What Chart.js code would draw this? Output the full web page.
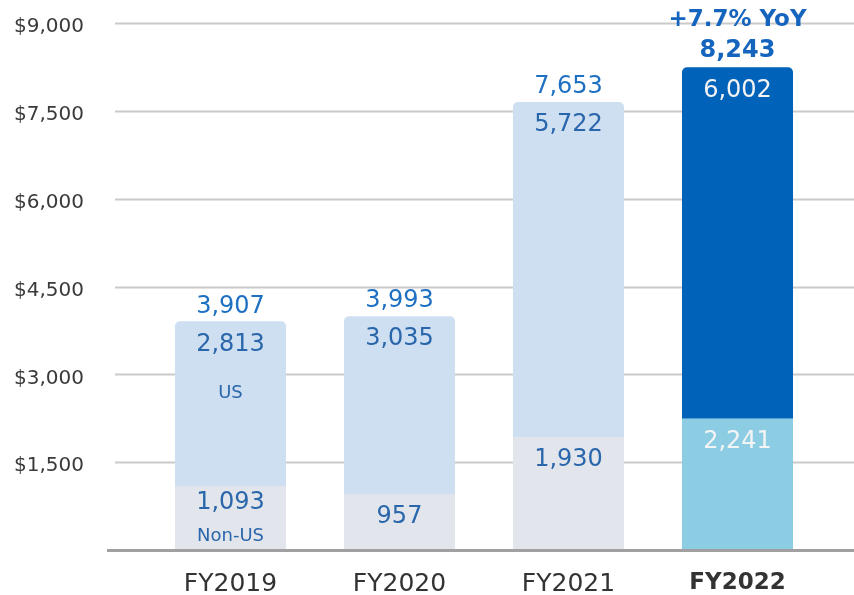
<!DOCTYPE html>
<html>
<head>
<meta charset="utf-8">
<script src="https://cdn.jsdelivr.net/npm/chart.js@4"></script>
<style>
  html, body { margin: 0; padding: 0; background: #ffffff; }
  #wrap { width: 854px; height: 595px; }
</style>
</head>
<body>
<div id="wrap"><canvas id="chart" width="854" height="595"></canvas></div>
<script>
const categories = ['FY2019', 'FY2020', 'FY2021', 'FY2022'];
const nonUs = [1093, 957, 1930, 2241];
const us = [2813, 3035, 5722, 6002];
const totals = [3907, 3993, 7653, 8243];
const yTicks = [0, 1500, 3000, 4500, 6000, 7500, 9000];
const yoyText = '+7.7% YoY';

const nonUsColors = ['#e2e6ec', '#e2e6ec', '#e2e6ec', '#8dcde4'];
const usColors = ['#cddff0', '#cddff0', '#cddff0', '#0063b9'];
const FONT = '"DejaVu Sans", sans-serif';

const fmt = v => v.toLocaleString('en-US');

// grid lines run wider than the bar area, so draw them ourselves
const gridPlugin = {
    id: 'gridPlugin',
    beforeDatasetsDraw(chart) {
        const ctx = chart.ctx;
        const y = chart.scales.y;
        ctx.save();
        ctx.strokeStyle = '#cacaca';
        ctx.lineWidth = 2;
        yTicks.forEach(t => {
            if (t === 0) return;
            const py = Math.round(y.getPixelForValue(t)) + 0.5;
            ctx.beginPath();
            ctx.moveTo(115, py);
            ctx.lineTo(854, py);
            ctx.stroke();
        });
        ctx.restore();
    },
    afterDatasetsDraw(chart) {
        const ctx = chart.ctx;
        const y = chart.scales.y;
        const base = y.getPixelForValue(0);
        ctx.save();
        ctx.strokeStyle = '#a0a0a0';
        ctx.lineWidth = 3;
        ctx.beginPath();
        ctx.moveTo(107, base + 0.5);
        ctx.lineTo(854, base + 0.5);
        ctx.stroke();
        ctx.restore();
    }
};

const labelPlugin = {
    id: 'labelPlugin',
    afterDatasetsDraw(chart) {
        const ctx = chart.ctx;
        const lower = chart.getDatasetMeta(0).data;
        const upper = chart.getDatasetMeta(1).data;
        ctx.save();
        ctx.textAlign = 'center';
        ctx.textBaseline = 'middle';
        categories.forEach((c, i) => {
            const x = upper[i].x;
            const topUs = upper[i].y;
            const topNon = lower[i].y;
            const last = i === categories.length - 1;
            const inner = last ? '#f4f4f4' : '#2a66ab';

            // totals above the bar
            if (last) {
                ctx.fillStyle = '#1565bf';
                ctx.font = 'bold 24px ' + FONT;
                ctx.fillText(fmt(totals[i]), x, topUs - 17);
                ctx.font = 'bold 23px ' + FONT;
                ctx.fillText(yoyText, x, topUs - 47);
            } else {
                ctx.fillStyle = '#1e70c2';
                ctx.font = '24px ' + FONT;
                ctx.fillText(fmt(totals[i]), x, topUs - 15);
            }

            // segment values
            ctx.fillStyle = inner;
            ctx.font = '24px ' + FONT;
            ctx.fillText(fmt(us[i]), x, topUs + 23);
            if (i === 0) {
                ctx.fillText(fmt(nonUs[i]), x, topNon + 17);
                ctx.font = '18px ' + FONT;
                ctx.fillText('Non-US', x, topNon + 50);
                ctx.fillText('US', x, topUs + 72);
            } else {
                ctx.fillText(fmt(nonUs[i]), x, topNon + 23);
            }
        });
        ctx.restore();
    }
};

new Chart(document.getElementById('chart').getContext('2d'), {
    type: 'bar',
    data: {
        labels: categories,
        datasets: [{
            label: 'Non-US',
            data: nonUs,
            backgroundColor: nonUsColors,
            borderWidth: 0,
            categoryPercentage: 0.657,
            barPercentage: 1
        }, {
            label: 'US',
            data: us,
            backgroundColor: usColors,
            borderWidth: 0,
            borderSkipped: 'start',
            borderRadius: { topLeft: 5, topRight: 5, bottomLeft: 0, bottomRight: 0 },
            categoryPercentage: 0.657,
            barPercentage: 1
        }]
    },
    options: {
        responsive: false,
        animation: false,
        layout: { padding: { left: 14, right: 32, top: 23, bottom: 0 } },
        scales: {
            x: {
                stacked: true,
                grid: { display: false, drawTicks: false },
                border: { display: false },
                ticks: {
                    padding: 19,
                    color: '#333333',
                    font: ctx => ctx.index === 3
                        ? { family: FONT, size: 23, weight: 'bold' }
                        : { family: FONT, size: 25, weight: 'normal' }
                },
                afterFit(scale) { scale.height = 45; }
            },
            y: {
                stacked: true,
                min: 0,
                max: 9000,
                afterBuildTicks(scale) { scale.ticks = yTicks.map(v => ({ value: v })); },
                grid: { display: false, drawTicks: false },
                border: { display: false },
                ticks: {
                    padding: 0,
                    crossAlign: 'far',
                    labelOffset: 4,
                    color: '#3a3a3a',
                    font: { family: FONT, size: 20 },
                    callback: v => v === 0 ? '' : '$' + fmt(v)
                },
                afterFit(scale) { scale.width = 132; }
            }
        },
        plugins: {
            legend: { display: false },
            tooltip: { enabled: false }
        }
    },
    plugins: [gridPlugin, labelPlugin]
});
</script>
</body>
</html>
